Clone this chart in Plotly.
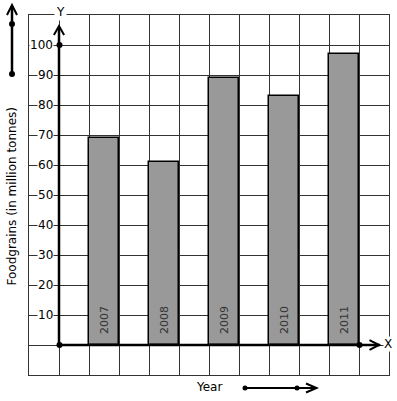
import plotly.graph_objects as go

# ---- data ----
years = ["2007", "2008", "2009", "2010", "2011"]
foodgrains = [69, 61, 89, 83, 97]
y_ticks = [10, 20, 30, 40, 50, 60, 70, 80, 90, 100]
y_title = "Foodgrains (in million tonnes)"
x_title = "Year"

# ---- layout geometry (pixels) ----
W, H = 397, 401
L, R, T, B = 29, 8, 15, 26          # plot area = the graph-paper grid 360x360
PW, PH = W - L - R, H - T - B

def px2paper_x(px):
    return (px - L) / PW

def py2paper_y(py):
    return (H - B - py) / PH

FONT = "DejaVu Sans"
GRID = "#333333"

fig = go.Figure()

# bars placed every second grid column
xpos = [1.5 + 2 * i for i in range(len(years))]
fig.add_trace(go.Bar(
    x=xpos, y=foodgrains, width=1,
    marker=dict(color="#999999", line=dict(color="black", width=1.5)),
    hoverinfo="skip", showlegend=False,
))

shapes = []
# axes (from origin)
shapes.append(dict(type="line", xref="x", yref="y", x0=0, y0=0, x1=0, y1=106,
                   line=dict(color="black", width=2.5)))
shapes.append(dict(type="line", xref="x", yref="y", x0=0, y0=0, x1=10.7, y1=0,
                   line=dict(color="black", width=2.5)))
# y-axis arrowhead
shapes.append(dict(type="path", xref="x", yref="y",
                   path="M -0.17,103.3 L 0,106.3 L 0.17,103.3",
                   line=dict(color="black", width=2)))
# x-axis arrowhead
shapes.append(dict(type="path", xref="x", yref="y",
                   path="M 10.35,1.6 L 10.67,0 L 10.35,-1.6",
                   line=dict(color="black", width=2)))

def dot(px, py, r=3):
    return dict(type="circle", xref="paper", yref="paper",
                x0=px2paper_x(px - r), x1=px2paper_x(px + r),
                y0=py2paper_y(py + r), y1=py2paper_y(py - r),
                fillcolor="black", line=dict(color="black", width=0))

# dots on axes
shapes += [dot(59.5, 345), dot(59.5, 45), dot(359.5, 345)]

# left decorative arrow
shapes.append(dict(type="line", xref="paper", yref="paper",
                   x0=px2paper_x(12), y0=py2paper_y(74), x1=px2paper_x(12), y1=py2paper_y(6),
                   line=dict(color="black", width=2.5)))
shapes.append(dict(type="path", xref="paper", yref="paper",
                   path="M %f,%f L %f,%f L %f,%f" % (
                       px2paper_x(7), py2paper_y(15), px2paper_x(12), py2paper_y(5),
                       px2paper_x(17), py2paper_y(15)),
                   line=dict(color="black", width=2)))
shapes += [dot(12, 24), dot(12, 74)]

# bottom decorative arrow
shapes.append(dict(type="line", xref="paper", yref="paper",
                   x0=px2paper_x(245), y0=py2paper_y(388), x1=px2paper_x(315), y1=py2paper_y(388),
                   line=dict(color="black", width=2)))
shapes.append(dict(type="path", xref="paper", yref="paper",
                   path="M %f,%f L %f,%f L %f,%f" % (
                       px2paper_x(306), py2paper_y(383.5), px2paper_x(316.5), py2paper_y(388),
                       px2paper_x(306), py2paper_y(392.5)),
                   line=dict(color="black", width=2)))
shapes += [dot(245, 388, 2.5), dot(297, 388, 2.5)]

annotations = []
# y tick labels with white background over grid lines
for v in y_ticks:
    annotations.append(dict(x=0, y=v, xref="x", yref="y", text=str(v),
                            showarrow=False, xanchor="right", yanchor="middle",
                            xshift=-5, bgcolor="white", borderpad=0,
                            font=dict(family=FONT, size=12, color="black")))
# year labels inside bars
for xp, yr in zip(xpos, years):
    annotations.append(dict(x=xp, y=0, xref="x", yref="y", text=yr,
                            showarrow=False, textangle=-90, xanchor="center",
                            yanchor="bottom", yshift=9,
                            font=dict(family=FONT, size=11, color="#333333")))
# axis letters
annotations.append(dict(x=px2paper_x(60), y=py2paper_y(12), xref="paper", yref="paper",
                        text="Y", showarrow=False, bgcolor="white", borderpad=1,
                        xanchor="center", yanchor="middle",
                        font=dict(family=FONT, size=12, color="black")))
annotations.append(dict(x=px2paper_x(388), y=py2paper_y(344), xref="paper", yref="paper",
                        text="X", showarrow=False, bgcolor="white", borderpad=0,
                        xanchor="center", yanchor="middle",
                        font=dict(family=FONT, size=12, color="black")))
# titles
annotations.append(dict(x=px2paper_x(11.5), y=py2paper_y(197), xref="paper", yref="paper",
                        text=y_title, showarrow=False, textangle=-90,
                        xanchor="center", yanchor="middle",
                        font=dict(family=FONT, size=12, color="black")))
annotations.append(dict(x=px2paper_x(209), y=py2paper_y(387), xref="paper", yref="paper",
                        text=x_title, showarrow=False,
                        xanchor="center", yanchor="middle",
                        font=dict(family=FONT, size=12, color="black")))

fig.update_layout(
    width=W, height=H,
    margin=dict(l=L, r=R, t=T, b=B, pad=0),
    paper_bgcolor="white", plot_bgcolor="white",
    shapes=shapes, annotations=annotations,
    xaxis=dict(range=[-1, 11], dtick=1, tick0=0, showgrid=True, gridcolor=GRID, gridwidth=1,
               zeroline=False, showticklabels=False, ticks="",
               showline=True, mirror=True, linecolor=GRID, linewidth=1, fixedrange=True),
    yaxis=dict(range=[-10, 110], dtick=10, tick0=0, showgrid=True, gridcolor=GRID, gridwidth=1,
               zeroline=False, showticklabels=False, ticks="",
               showline=True, mirror=True, linecolor=GRID, linewidth=1, fixedrange=True),
    bargap=0,
)

fig.write_html("out.html", config={"displayModeBar": False},
               post_script="document.body.style.margin='0';document.body.style.overflow='hidden';")
